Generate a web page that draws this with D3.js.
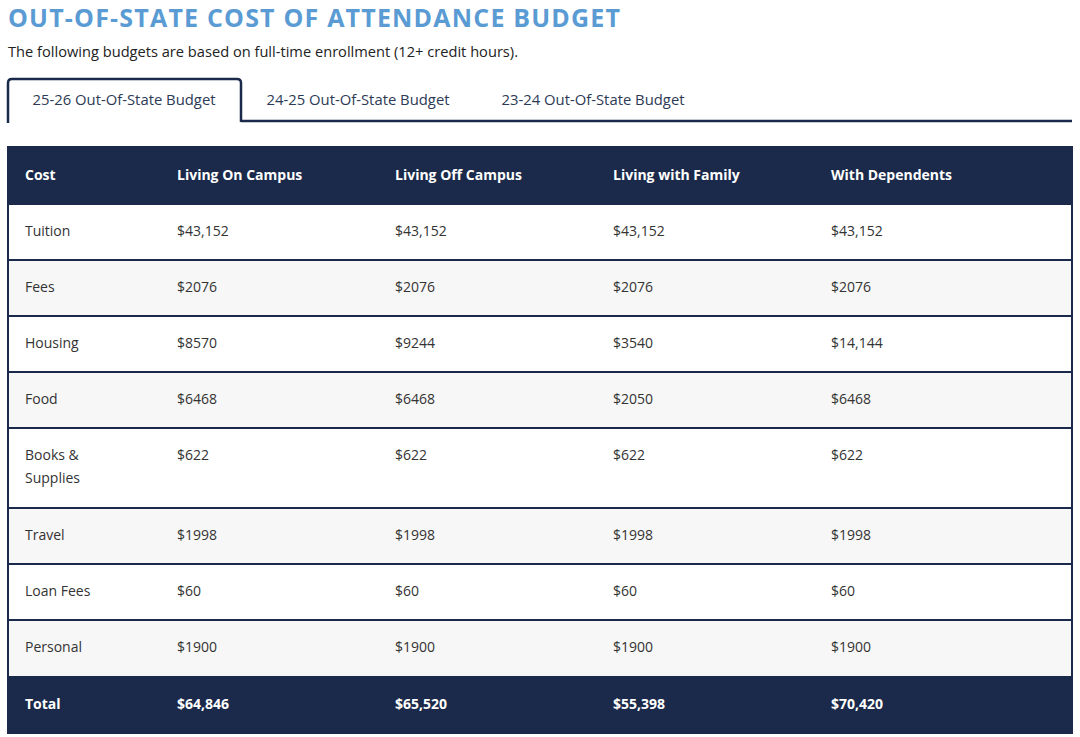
<!DOCTYPE html>
<html><head><meta charset="utf-8">
<script src="https://cdn.jsdelivr.net/npm/d3@7"></script>
<style>
html,body{margin:0;padding:0;background:#fff;}
svg{display:block;font-family:"Open Sans","Noto Sans",sans-serif;}
</style></head>
<body><svg id="chart" width="1080" height="737"></svg>
<script>
const titleText = "OUT-OF-STATE COST OF ATTENDANCE BUDGET";
const subtitleText = "The following budgets are based on full-time enrollment (12+ credit hours).";
const tabs = ["25-26 Out-Of-State Budget", "24-25 Out-Of-State Budget", "23-24 Out-Of-State Budget"];
const firstHeader = "Cost";
const columns = ["Living On Campus", "Living Off Campus", "Living with Family", "With Dependents"];
const categories = ["Tuition", "Fees", "Housing", "Food", "Books & Supplies", "Travel", "Loan Fees", "Personal"];
const categoryLines = [["Tuition"], ["Fees"], ["Housing"], ["Food"], ["Books &", "Supplies"], ["Travel"], ["Loan Fees"], ["Personal"]];
const onCampus = [43152, 2076, 8570, 6468, 622, 1998, 60, 1900];
const offCampus = [43152, 2076, 9244, 6468, 622, 1998, 60, 1900];
const withFamily = [43152, 2076, 3540, 2050, 622, 1998, 60, 1900];
const withDependents = [43152, 2076, 14144, 6468, 622, 1998, 60, 1900];
const totalLabel = "Total";
const totals = [64846, 65520, 55398, 70420];

const series = [onCampus, offCampus, withFamily, withDependents];
const navy = "#1b2a4a";
const svg = d3.select("#chart");
const fmt = v => "$" + (v >= 10000 ? d3.format(",")(v) : String(v));

// Title
svg.append("text").attr("x", 8).attr("y", 27)
  .attr("fill", "#5a9bd4").attr("font-weight", 700).attr("font-size", 25)
  .attr("textLength", 612).attr("lengthAdjust", "spacing")
  .text(titleText);
svg.append("text").attr("x", 8).attr("y", 57)
  .attr("fill", "#222").attr("font-size", 14)
  .attr("textLength", 510).attr("lengthAdjust", "spacingAndGlyphs")
  .text(subtitleText);

// Tabs
const tabX = d3.scaleBand().domain(tabs).range([8, 708]).paddingInner(0);
const tabTop = 79, tabBot = 121;
svg.append("line").attr("x1", tabX(tabs[0]) + 233).attr("x2", 1072)
  .attr("y1", tabBot).attr("y2", tabBot).attr("stroke", navy).attr("stroke-width", 2.5);
const aX0 = 8, aX1 = 241, r = 4;
svg.append("path")
  .attr("d", `M${aX0},${tabBot + 2} L${aX0},${tabTop + r} Q${aX0},${tabTop} ${aX0 + r},${tabTop} L${aX1 - r},${tabTop} Q${aX1},${tabTop} ${aX1},${tabTop + r} L${aX1},${tabBot + 1}`)
  .attr("fill", "none").attr("stroke", navy).attr("stroke-width", 2.5);
const tabLabelX = d3.scaleOrdinal().domain(tabs).range([124, 358, 593]);
svg.selectAll("text.tab").data(tabs).join("text").attr("class", "tab")
  .attr("x", d => tabLabelX(d)).attr("y", 105).attr("text-anchor", "middle")
  .attr("fill", "#2d3a55").attr("font-size", 14)
  .attr("textLength", 183).attr("lengthAdjust", "spacingAndGlyphs")
  .text(d => d);

// Table
const tableX0 = 8, tableX1 = 1072;
const x = d3.scaleBand().domain(columns).range([159, 1031]);
const pad = 18;
const headerTop = 147, headerH = 57, rowH = 56, lineH = 23, totalH = 57;
const rowHeights = categoryLines.map(l => rowH + (l.length - 1) * lineH + (l.length > 1 ? 1 : 0));
const rowTops = [];
let acc = headerTop + headerH;
rowHeights.forEach(h => { rowTops.push(acc); acc += h; });
const totalTop = acc;

// header bg
svg.append("rect").attr("x", tableX0).attr("y", headerTop).attr("width", tableX1 - tableX0).attr("height", headerH).attr("fill", navy);
// rows
const rows = svg.selectAll("g.row").data(categories).join("g").attr("class", "row")
  .attr("transform", (d, i) => `translate(0,${rowTops[i]})`);
rows.append("rect").attr("x", tableX0).attr("y", 0).attr("width", tableX1 - tableX0)
  .attr("height", (d, i) => rowHeights[i]).attr("fill", (d, i) => i % 2 ? "#f7f7f7" : "#ffffff");
rows.append("text").attr("x", tableX0 + 17).attr("y", 32).attr("font-size", 14).attr("fill", "#333")
  .selectAll("tspan").data((d, i) => categoryLines[i]).join("tspan")
  .attr("x", tableX0 + 17).attr("dy", (d, j) => j ? lineH : 0).text(d => d);
rows.each(function(d, i) {
  d3.select(this).selectAll("text.val").data(series.map(s => s[i])).join("text").attr("class", "val")
    .attr("x", (v, j) => x(columns[j]) + pad).attr("y", 32).attr("font-size", 14).attr("fill", "#333")
    .text(v => fmt(v));
});
// row separators
svg.selectAll("line.sep").data(rowTops).join("line").attr("class", "sep")
  .attr("x1", tableX0).attr("x2", tableX1).attr("y1", d => d).attr("y2", d => d)
  .attr("stroke", navy).attr("stroke-width", 2);

// total
svg.append("rect").attr("x", tableX0).attr("y", totalTop).attr("width", tableX1 - tableX0).attr("height", totalH).attr("fill", navy);

// header text
svg.append("text").attr("x", tableX0 + 17).attr("y", headerTop + 33).attr("fill", "#fff").attr("font-weight", 700).attr("font-size", 14).text(firstHeader);
svg.selectAll("text.head").data(columns).join("text").attr("class", "head")
  .attr("x", d => x(d) + pad).attr("y", headerTop + 33).attr("fill", "#fff").attr("font-weight", 700).attr("font-size", 14).text(d => d);
svg.append("text").attr("x", tableX0 + 17).attr("y", totalTop + 33).attr("fill", "#fff").attr("font-weight", 700).attr("font-size", 14).text(totalLabel);
svg.selectAll("text.tot").data(totals).join("text").attr("class", "tot")
  .attr("x", (d, j) => x(columns[j]) + pad).attr("y", totalTop + 33).attr("fill", "#fff").attr("font-weight", 700).attr("font-size", 14).text(d => fmt(d));

// outer border
svg.append("rect").attr("x", tableX0).attr("y", headerTop).attr("width", tableX1 - tableX0).attr("height", totalTop + totalH - headerTop)
  .attr("fill", "none").attr("stroke", navy).attr("stroke-width", 2);
</script></body></html>
